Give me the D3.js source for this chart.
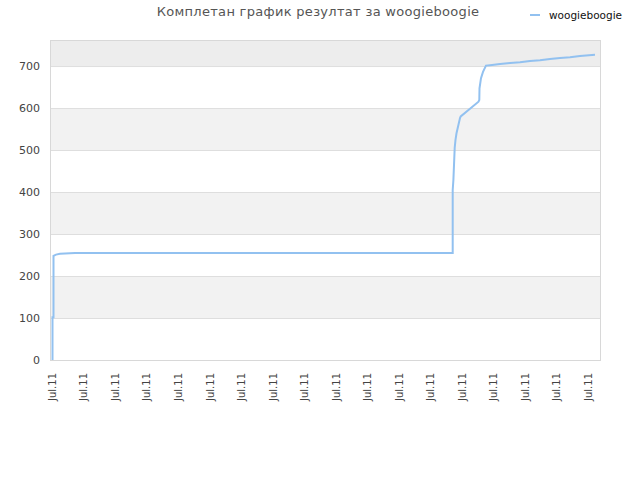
<!DOCTYPE html>
<html>
<head>
<meta charset="utf-8">
<script src="https://cdn.jsdelivr.net/npm/d3@7"></script>
<style>
  body { margin: 0; background: #fff; }
  text { font-family: 'DejaVu Sans', Verdana, sans-serif; }
</style>
</head>
<body>
<div id="chart"></div>
<script>
// series: minutes since first solve, cumulative result
const minutes = [2.5, 2.5, 3.5, 3.5, 6, 10, 25, 402.7, 402.7, 403.4, 404.7, 405.5, 406.5, 410, 410.7, 428.5, 429.3, 429.5, 431, 433, 436, 440, 450, 460, 470, 480, 490, 500, 510, 520, 530, 545]
const scores = [0, 102, 102, 248, 251, 253, 255, 255, 405, 429, 505, 524, 540, 576, 580, 615, 619, 647, 671, 686, 701, 702, 705, 707, 709, 712, 714, 717, 719, 721, 724, 727]

// x ticks (minutes) and their labels
const tickMinutes = [1.5, 33, 64.5, 96, 128, 159.5, 191, 222.5, 254, 285.5, 317, 348.5, 380, 411.5, 443, 474.5, 506, 538]
const tickLabels = tickMinutes.map(() => 'Jul.11')
const yTicks = [0, 100, 200, 300, 400, 500, 600, 700]

const title = 'Комплетан график резултат за woogieboogie'
const seriesName = 'woogieboogie'

const width = 640
const height = 480
const marginTop = 40
const marginLeft = 50
const marginRight = 40
const marginBottom = 120
const lineColor = '#92c1f0'

const scaleX = d3.scaleLinear()
  .domain([0, 550])
  .range([marginLeft, width - marginRight])

const scaleY = d3.scaleLinear()
  .domain([0, 762])
  .range([height - marginBottom, marginTop])

const $svg = d3.select('#chart').append('svg')
  .attr('width', width)
  .attr('height', height)

// alternating bands
const bands = d3.range(0, 800, 100)
$svg.append('g')
  .selectAll('rect')
  .data(bands)
  .join('rect')
  .attr('x', scaleX(0))
  .attr('width', scaleX(550) - scaleX(0))
  .attr('y', d => scaleY(Math.min(d + 100, 762)))
  .attr('height', d => scaleY(d) - scaleY(Math.min(d + 100, 762)))
  .attr('fill', (d, i) => d >= 700 ? '#ededed' : (i % 2 ? '#f2f2f2' : '#fff'))

// y axis
$svg.append('g')
  .attr('transform', `translate(${marginLeft}, 0)`)
  .call(d3.axisLeft(scaleY)
    .tickValues(yTicks)
    .tickSize(-(scaleX(550) - scaleX(0)))
    .tickPadding(10)
  )
  .call(g => g.select('.domain').remove())
  .call(g => g.selectAll('.tick line').attr('stroke', '#dedede'))
  .call(g => g.selectAll('.tick text')
    .attr('fill', '#444')
    .style('font-size', '11px'))

// x axis
$svg.append('g')
  .attr('transform', `translate(0, ${scaleY(0)})`)
  .call(d3.axisBottom(scaleX)
    .tickValues(tickMinutes)
    .tickSize(0)
    .tickFormat((d, i) => tickLabels[i])
  )
  .call(g => g.select('.domain').remove())
  .call(g => g.selectAll('.tick text')
    .attr('fill', '#444')
    .style('font-size', '10px')
    .attr('text-anchor', 'end')
    .attr('transform', 'rotate(-90)')
    .attr('x', -13)
    .attr('y', 0)
    .attr('dy', '0.35em'))

// plot border
$svg.append('rect')
  .attr('x', scaleX(0) + 0.5)
  .attr('y', scaleY(762) + 0.5)
  .attr('width', scaleX(550) - scaleX(0))
  .attr('height', scaleY(0) - scaleY(762))
  .attr('fill', 'none')
  .attr('stroke', '#d8d8d8')

// line
const line = d3.line()
  .x((d, i) => scaleX(minutes[i]))
  .y(d => scaleY(d))

$svg.append('path')
  .datum(scores)
  .attr('d', line)
  .attr('fill', 'none')
  .attr('stroke', lineColor)
  .attr('stroke-width', 2)

// title
$svg.append('text')
  .attr('x', 318)
  .attr('y', 16)
  .attr('text-anchor', 'middle')
  .attr('fill', '#555')
  .style('font-size', '13px')
  .style('letter-spacing', '0.3px')
  .text(title)

// legend
const $legend = $svg.append('g')
  .attr('transform', 'translate(530, 15)')
$legend.append('line')
  .attr('x1', 0)
  .attr('x2', 10)
  .attr('stroke', lineColor)
  .attr('stroke-width', 2)
$legend.append('text')
  .attr('x', 19)
  .attr('dy', '0.35em')
  .attr('fill', '#111')
  .style('font-size', '10.5px')
  .text(seriesName)
</script>
</body>
</html>
